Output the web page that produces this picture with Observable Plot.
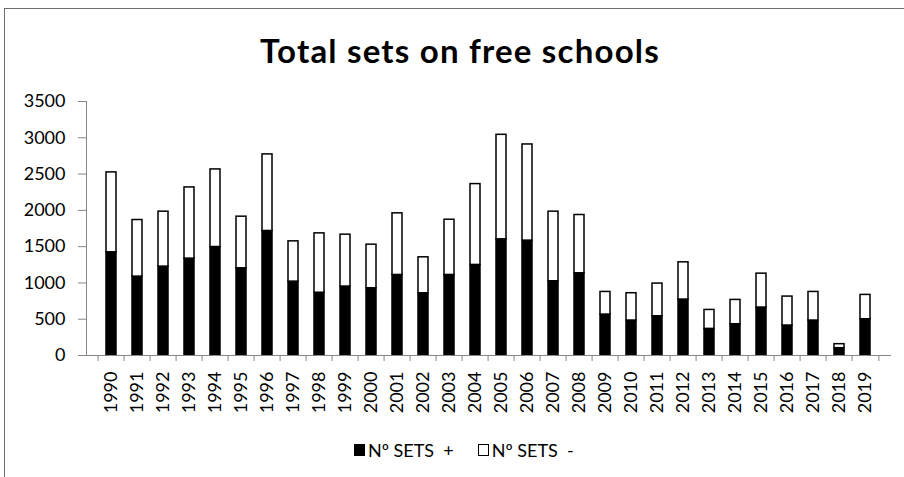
<!DOCTYPE html>
<html>
<head>
<meta charset="utf-8">
<script src="https://cdn.jsdelivr.net/npm/d3@7"></script>
<script src="https://cdn.jsdelivr.net/npm/@observablehq/plot@0.6"></script>
<style>
  html, body { margin: 0; padding: 0; background: #fff; overflow: hidden; }
  body { width: 904px; height: 477px; position: relative; font-family: Lato, "Open Sans", sans-serif; }
  #frame { position: absolute; left: 4px; top: 8px; width: 920px; height: 500px; border: 1px solid #6e6e6e; box-sizing: border-box; }
  #chart { position: absolute; left: 0; top: 0; }
  #title { position: absolute; left: 0; width: 920px; top: 30px; text-align: center; font-weight: 700; font-size: 33px; letter-spacing: 1.2px; color: #000; line-height: 40px; white-space: nowrap; }
  #legend { position: absolute; top: 439px; left: 354px; font-size: 18px; color: #000; display: flex; align-items: center; white-space: nowrap; }
  .sw { display: inline-block; width: 11px; height: 12px; box-sizing: border-box; border: 1px solid #000; margin-right: 3px; }
</style>
</head>
<body>
<div id="frame"></div>
<div id="title">Total sets on free schools</div>
<div id="chart"></div>
<div id="legend"></div>
<script>
const years = ["1990","1991","1992","1993","1994","1995","1996","1997","1998","1999","2000","2001","2002","2003","2004","2005","2006","2007","2008","2009","2010","2011","2012","2013","2014","2015","2016","2017","2018","2019"];
const setsPlus  = [1422,1087,1225,1335,1495,1202,1716,1018,865,950,927,1110,858,1110,1248,1601,1583,1023,1133,564,482,541,771,367,431,661,413,482,101,500];
const setsMinus = [1101,780,757,981,1069,711,1055,555,818,715,600,849,495,761,1114,1440,1325,959,803,312,376,450,513,261,335,467,399,394,55,335];
const seriesNames = ["Nº SETS +", "Nº SETS -"];
const seriesColors = ["#000000", "#ffffff"];
const yTicks = [0,500,1000,1500,2000,2500,3000,3500];

const rows = [];
years.forEach((y, i) => {
  rows.push({year: y, series: seriesNames[0], value: setsPlus[i]});
  rows.push({year: y, series: seriesNames[1], value: setsMinus[i]});
});

const W = 904, H = 477;
const mL = 86, mR = 14, mT = 101, mB = 122;
const step = (W - mL - mR) / years.length;
const font = "Lato, 'Open Sans', sans-serif";

const chart = Plot.plot({
  width: W, height: H,
  marginLeft: mL, marginRight: mR, marginTop: mT, marginBottom: mB,
  style: {fontFamily: font, fontSize: "18px", color: "#000", background: "transparent"},
  x: {domain: years, paddingInner: 0.62, paddingOuter: 0.31, label: null, axis: null},
  y: {domain: [0, 3500], label: null, axis: null},
  color: {domain: seriesNames, range: seriesColors},
  marks: [
    Plot.barY(rows, {x: "year", y: "value", fill: "series", stroke: "#000", strokeWidth: 1.5, order: seriesNames}),
    Plot.frame({anchor: "left", stroke: "#868686"}),
    Plot.frame({anchor: "bottom", stroke: "#868686"}),
    Plot.axisY({ticks: yTicks, tickSize: 8, tickFormat: () => "", stroke: "#868686", label: null}),
    Plot.axisY({ticks: yTicks, tickSize: 0, tickPadding: 21, tickFormat: d => String(d), fill: "#000", label: null, fontSize: 18}),
    Plot.axisX({tickSize: 6, tickFormat: () => "", stroke: "#868686", dx: -step / 2, label: null}),
    Plot.axisX([years[years.length - 1]], {tickSize: 6, tickFormat: () => "", stroke: "#868686", dx: step / 2, label: null}),
    Plot.axisX({tickSize: 0, tickPadding: 16, tickRotate: -90, fill: "#000", label: null, fontSize: 18})
  ]
});
document.getElementById("chart").appendChild(chart);

const legend = document.getElementById("legend");
seriesNames.forEach((name, i) => {
  const item = document.createElement("span");
  item.style.display = "inline-flex";
  item.style.alignItems = "center";
  item.style.marginRight = i === 0 ? "24px" : "0";
  const sw = document.createElement("span");
  sw.className = "sw";
  sw.style.background = seriesColors[i];
  const label = document.createElement("span");
  label.textContent = name.replace(" +", "  +").replace(" -", "  -");
  label.style.whiteSpace = "pre";
  item.appendChild(sw);
  item.appendChild(label);
  legend.appendChild(item);
});
</script>
</body>
</html>
